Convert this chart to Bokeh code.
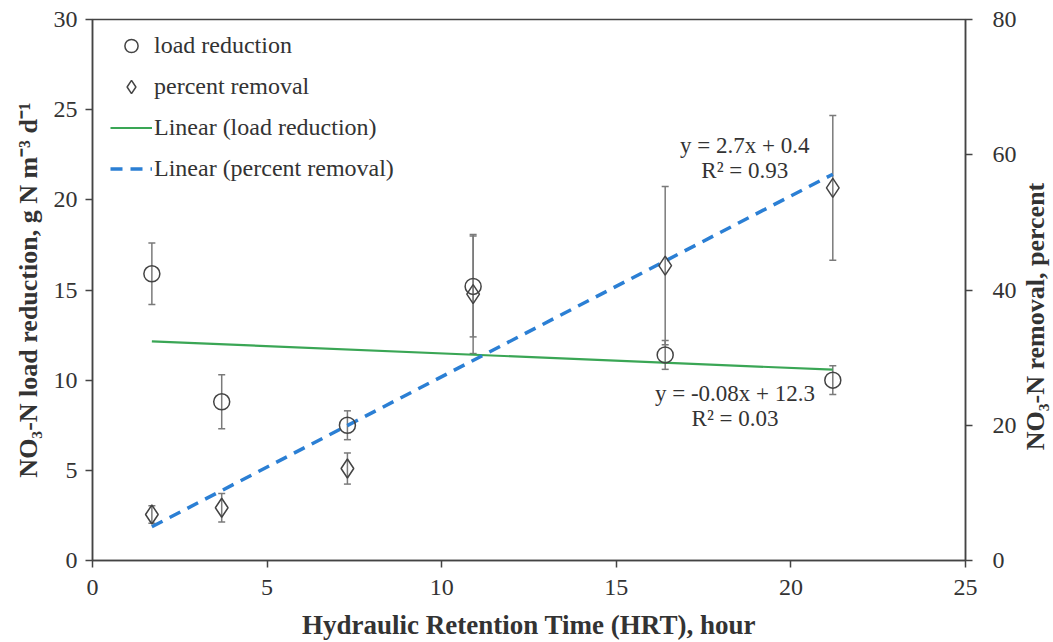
import math
import numpy as np
from bokeh.plotting import figure
from bokeh.layouts import row
from bokeh.models import (Range1d, LinearAxis, FixedTicker, ColumnDataSource, Whisker,
                          TeeHead, Legend, LegendItem, Label)
from bokeh.embed import file_html
from bokeh.resources import INLINE

# ---- data ----
hrt = [1.7, 3.7, 7.3, 10.9, 16.4, 21.2]
load_reduction = [15.9, 8.8, 7.5, 15.2, 11.4, 10.0]
load_err = [1.7, 1.5, 0.8, 2.8, 0.8, 0.8]
percent_removal = [6.8, 7.8, 13.6, 39.4, 43.6, 55.1]
percent_err = [1.3, 2.1, 2.3, 8.8, 11.7, 10.7]
x_ticks = [0, 5, 10, 15, 20, 25]
left_ticks = [0, 5, 10, 15, 20, 25, 30]
right_ticks = [0, 20, 40, 60, 80]
eq_texts = ["y = 2.7x + 0.4", "R\u00b2 = 0.93", "y = -0.08x + 12.3", "R\u00b2 = 0.03"]

FONT = "Liberation Serif"
AX = "#444444"
TXT = "#333333"

p = figure(width=1021, height=642, output_backend="svg", toolbar_location=None,
           x_range=Range1d(0, 25), y_range=Range1d(0, 30),
           min_border_left=92, min_border_top=19, min_border_right=56, min_border_bottom=82)
p.extra_y_ranges = {"pct": Range1d(0, 80)}
p.grid.visible = False
p.outline_line_color = AX
p.outline_line_width = 1.5
p.background_fill_color = "white"
p.border_fill_color = "white"

def style_axis(ax, ticks):
    ax.ticker = FixedTicker(ticks=ticks)
    ax.axis_line_color = AX
    ax.axis_line_width = 1.5
    ax.major_tick_line_color = AX
    ax.major_tick_line_width = 1.5
    ax.major_tick_out = 7
    ax.major_tick_in = 0
    ax.minor_tick_line_color = None
    ax.major_label_text_font = FONT
    ax.major_label_text_font_size = "24px"
    ax.major_label_text_color = TXT
    ax.axis_label_text_font = FONT
    ax.axis_label_text_font_size = "26px"
    ax.axis_label_text_font_style = "bold"
    ax.axis_label_text_color = TXT

style_axis(p.xaxis[0], x_ticks)
style_axis(p.yaxis[0], left_ticks)
p.xaxis[0].axis_label = "Hydraulic Retention Time (HRT), hour"
p.xaxis[0].axis_label_text_font_size = "27px"
p.xaxis[0].axis_label_text_line_height = 0.8
p.xaxis[0].major_label_text_line_height = 0.8
p.xaxis[0].axis_label_standoff = 12
p.xaxis[0].major_label_standoff = 12
p.yaxis[0].axis_label = "NO\u2083-N load reduction, g N m\u207b\u00b3 d\u207b\u00b9"
p.yaxis[0].axis_label_standoff = 8
p.yaxis[0].major_label_standoff = 8

rax = LinearAxis(y_range_name="pct")
style_axis(rax, right_ticks)
rax.major_label_standoff = 20
p.add_layout(rax, "right")

src = ColumnDataSource(dict(
    x=hrt, load=load_reduction,
    load_lo=[a - b for a, b in zip(load_reduction, load_err)],
    load_hi=[a + b for a, b in zip(load_reduction, load_err)],
    pct=percent_removal,
    pct_lo=[a - b for a, b in zip(percent_removal, percent_err)],
    pct_hi=[a + b for a, b in zip(percent_removal, percent_err)],
))

WH = "#7a7a7a"
w1 = Whisker(source=src, base="x", lower="load_lo", upper="load_hi",
             line_color=WH, line_width=1.5,
             upper_head=TeeHead(size=7, line_color=WH, line_width=1.5),
             lower_head=TeeHead(size=7, line_color=WH, line_width=1.5))
w2 = Whisker(source=src, base="x", lower="pct_lo", upper="pct_hi", y_range_name="pct",
             line_color=WH, line_width=1.5,
             upper_head=TeeHead(size=7, line_color=WH, line_width=1.5),
             lower_head=TeeHead(size=7, line_color=WH, line_width=1.5))
p.add_layout(w1)
p.add_layout(w2)

# trendlines (least-squares fit of the data)
xs = np.array(hrt)
k1, b1 = np.polyfit(xs, np.array(load_reduction), 1)
k2, b2 = np.polyfit(xs, np.array(percent_removal), 1)
xe = [min(hrt), max(hrt)]
r_green = p.line(xe, [k1 * v + b1 for v in xe], line_color="#3aa655", line_width=2.2)
r_blue = p.line(xe, [k2 * v + b2 for v in xe], y_range_name="pct",
                line_color="#2b7fd4", line_width=3.5, line_dash="12 8")

r_circ = p.scatter("x", "load", source=src, marker="circle", size=16,
                   fill_color=None, line_color="#444444", line_width=1.5)
r_diam = p.scatter("x", "pct", source=src, y_range_name="pct", marker="diamond", size=19,
                   fill_color=None, line_color="#444444", line_width=1.5)

legend = Legend(items=[
    LegendItem(label="load reduction", renderers=[r_circ]),
    LegendItem(label="percent removal", renderers=[r_diam]),
    LegendItem(label="Linear (load reduction)", renderers=[r_green]),
    LegendItem(label="Linear (percent removal)", renderers=[r_blue]),
], location=(18, 375))
legend.border_line_color = None
legend.background_fill_alpha = 0
legend.label_text_font = FONT
legend.label_text_font_size = "24px"
legend.label_text_color = TXT
legend.glyph_width = 42
legend.glyph_height = 33
legend.label_height = 33
legend.spacing = 8
legend.label_standoff = 2
legend.margin = 0
legend.padding = 5
p.add_layout(legend)

# equation labels
eq_pos = [(18.68, 23.0), (18.68, 21.6), (18.4, 9.28), (18.4, 7.9)]
for t, (ex, ey) in zip(eq_texts, eq_pos):
    p.add_layout(Label(x=ex, y=ey, text=t, text_align="center", text_baseline="middle",
                       text_font=FONT, text_font_size="23px", text_color=TXT))

# narrow strip holding the right-axis title (reads bottom-to-top)
p2 = figure(width=31, height=642, output_backend="svg", toolbar_location=None,
            x_axis_type=None, y_axis_type=None, min_border=0,
            x_range=Range1d(0, 1), y_range=Range1d(0, 1))
p2.grid.visible = False
p2.outline_line_color = None
p2.background_fill_color = "white"
p2.border_fill_color = "white"
p2.add_layout(Label(x=14, y=244, x_units="screen", y_units="screen",
                    text="NO\u2083-N removal, percent", angle=math.pi / 2,
                    text_align="center", text_baseline="middle",
                    text_font=FONT, text_font_size="26px", text_font_style="bold",
                    text_color=TXT))

open("out.html", "w").write(file_html(row(p, p2), INLINE))
